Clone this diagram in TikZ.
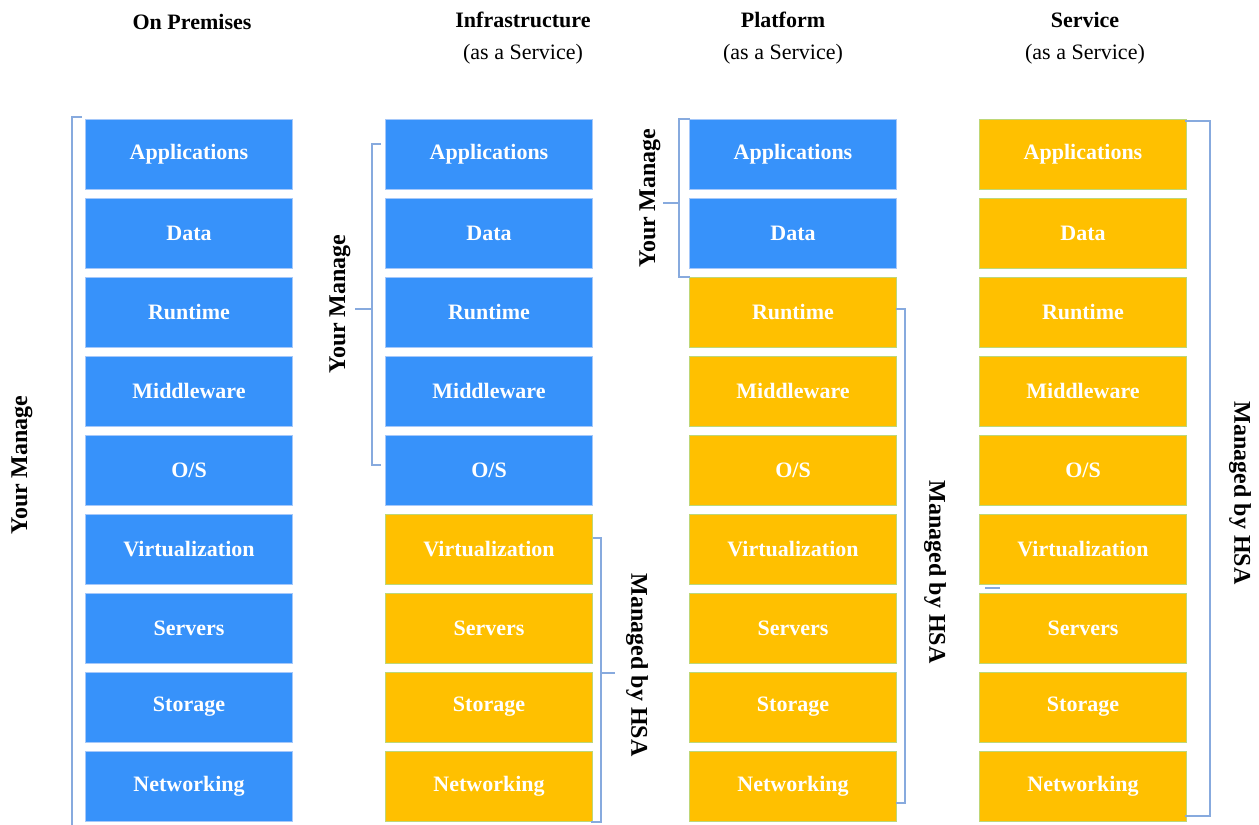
\documentclass[tikz,border=0pt]{standalone}
\usepackage{fontspec}
\setmainfont{Liberation Serif}
\usepackage{tikz}
\definecolor{boxblue}{RGB}{55,146,250}
\definecolor{lineblue}{RGB}{165,200,250}
\definecolor{boxorange}{RGB}{255,192,0}
\definecolor{linegreen}{RGB}{190,215,120}
\definecolor{bracketblue}{RGB}{135,170,222}

\tikzset{
	layer/.style={minimum width=207pt, minimum height=70pt, inner sep=0pt, line width=1pt, text=white, font=\fontsize{22}{24}\selectfont\bfseries},
	own/.style={layer, fill=boxblue, draw=lineblue},
	hsa/.style={layer, fill=boxorange, draw=linegreen},
	brk/.style={bracketblue, line width=1.2pt},
	side/.style={font=\fontsize{24}{26}\selectfont\bfseries},
	head/.style={align=center, font=\fontsize{22}{32}\selectfont}
}

\begin{document}
\begin{tikzpicture}[x=1pt, y=-1pt]
		\useasboundingbox (0,0) rectangle (1259,825);
		\node [head] (hprem) at (192,22) {\bfseries On Premises};
		\node [head] (hinfra) at (523,38) {\bfseries Infrastructure\\(as a Service)};
		\node [head] (hplat) at (783,38) {\bfseries Platform\\(as a Service)};
		\node [head] (hserv) at (1085,38) {\bfseries Service\\(as a Service)};
		\foreach \col/\xc/\nown in {p/189/9, i/489/5, l/793/2, s/1083/0}{
			\foreach \name [count=\r] in {Applications, Data, Runtime, Middleware, {O/S}, Virtualization, Servers, Storage, Networking}{
				\pgfmathsetmacro\yc{75+79*\r}
				\ifnum\r>\nown \def\sty{hsa}\else\def\sty{own}\fi
				\node [\sty] (\col\r) at (\xc,\yc) {\name};
			}
		}
		% your side
		\draw [brk] (82,117)--(72,117)--(72,825);
		\draw [brk] (381,144)--(372,144)--(372,465)--(381,465);
		\draw [brk] (372,309)--(355,309);
		\draw [brk] (690,119)--(679,119)--(679,277)--(690,277);
		\draw [brk] (679,203)--(663,203);
		\node [side, rotate=90] (pyou) at (22,465) {Your Manage};
		\node [side, rotate=90] (iyou) at (340,304) {Your Manage};
		\node [side, rotate=90] (lyou) at (650,198) {Your Manage};
		% provider side
		\draw [brk] (593,538)--(601,538)--(601,822)--(591,822);
		\draw [brk] (601,673)--(615,673);
		\draw [brk] (896,309)--(905,309)--(905,803)--(896,803);
		\draw [brk] (1185,121)--(1210,121)--(1210,816)--(1185,816);
		\draw [brk] (985,588)--(1000,588);
		\node [side, rotate=-90] (ihsa) at (637,665) {Managed by HSA};
		\node [side, rotate=-90] (lhsa) at (935,572) {Managed by HSA};
		\node [side, rotate=-90] (shsa) at (1240,493) {Managed by HSA};
	\end{tikzpicture}
\end{document}
